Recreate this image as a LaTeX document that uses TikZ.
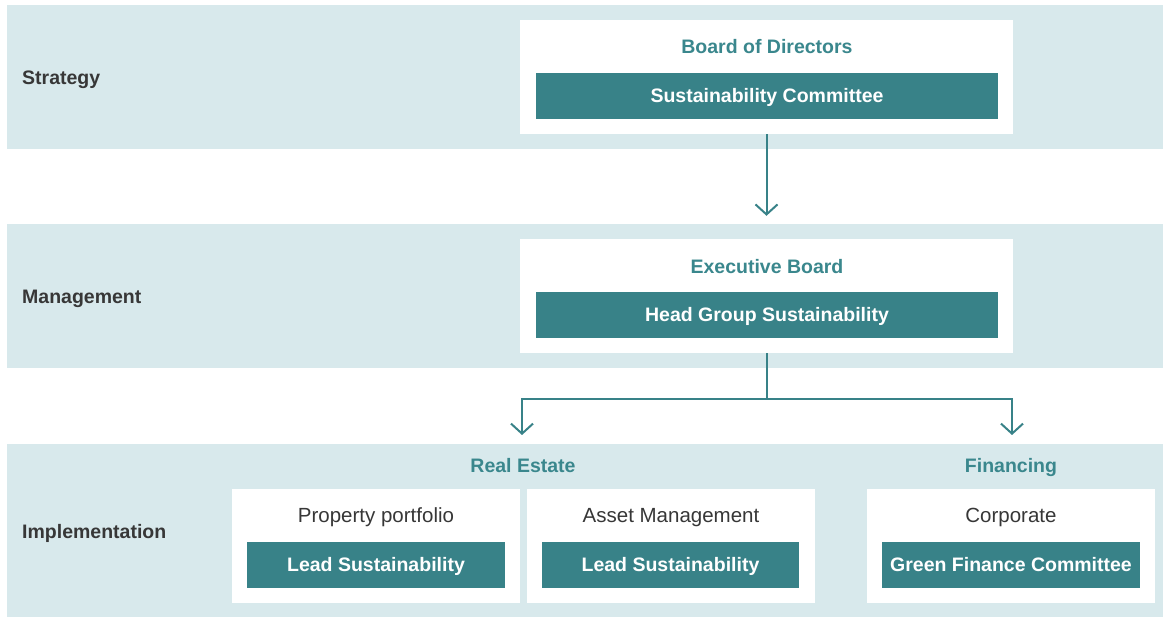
\documentclass[tikz,border=0pt]{standalone}
\usepackage{fontspec}
\setmainfont{Liberation Sans}
\usepackage{xcolor}
\usetikzlibrary{arrows.meta}

\definecolor{bandbg}{RGB}{216,233,236}
\definecolor{tealbar}{RGB}{56,130,136}
\definecolor{tealtext}{RGB}{58,135,141}
\definecolor{darktext}{RGB}{55,55,55}

\tikzset{
  band/.style={fill=bandbg, draw=none},
  panel/.style={rectangle, fill=white, draw=none, minimum height=114pt, inner sep=0pt},
  caps/.style={text height=14pt, text depth=0pt},
  bar/.style={rectangle, fill=tealbar, draw=none, text=white, minimum height=46pt, inner sep=0pt,
    font=\bfseries\fontsize{19.5}{22}\selectfont},
  bartext/.style={caps, text=white, inner sep=0pt, font=\bfseries\fontsize{19.5}{22}\selectfont},
  head/.style={caps, text=tealtext, inner sep=0pt, font=\bfseries\fontsize{19.5}{22}\selectfont},
  unit/.style={caps, text=darktext, inner sep=0pt, font=\fontsize{20.5}{23}\selectfont},
  level/.style={caps, anchor=west, text=darktext, inner sep=0pt, font=\bfseries\fontsize{19.5}{22}\selectfont},
  arr/.style={draw=tealbar, line width=2pt, -{Straight Barb[length=10pt, width=22pt, line width=2pt]}}
}

\begin{document}
\begin{tikzpicture}[x=1pt,y=1pt,yscale=-1,xscale=1]
    \useasboundingbox (0,0) rectangle (1163,617);

    %Bands
    \fill[band] (7,5) rectangle (1163,149);
    \fill[band] (7,224) rectangle (1163,368);
    \fill[band] (7,444) rectangle (1163,617);

    % Level labels
    \node[level] (strategy) at (22,78) {Strategy};
    \node[level] (management) at (22,297) {Management};
    \node[level] (implementation) at (22,532) {Implementation};

    %Strategy
    \node[panel, minimum width=493pt] (board) at (766.5,77) {};
    \node[head] (boardtitle) at (767,47) {Board of Directors};
    \node[bar, minimum width=462pt] (committee) at (767,96) {};
    \node[bartext] (committeetext) at (767,96) {Sustainability Committee};

    %Management
    \node[panel, minimum width=493pt] (exec) at (766.5,296) {};
    \node[head] (exectitle) at (767,267) {Executive Board};
    \node[bar, minimum width=462pt] (headgroup) at (767,315) {};
    \node[bartext] (headgrouptext) at (767,315) {Head Group Sustainability};

    %Implementation
    \node[head] (realestate) at (523,466) {Real Estate};
    \node[head] (financing) at (1011,466) {Financing};

    \node[panel, minimum width=288pt] (portfolio) at (376,546) {};
    \node[unit] (portfoliotitle) at (376,516) {Property portfolio};
    \node[bar, minimum width=258pt] (leadpp) at (376,565) {};
    \node[bartext] (leadpptext) at (376,565) {Lead Sustainability};

    \node[panel, minimum width=288pt] (asset) at (671,546) {};
    \node[unit] (assettitle) at (671,516) {Asset Management};
    \node[bar, minimum width=257pt] (leadam) at (670.5,565) {};
    \node[bartext] (leadamtext) at (670.5,565) {Lead Sustainability};

    \node[panel, minimum width=288pt] (corporate) at (1011,546) {};
    \node[unit] (corporatetitle) at (1011,516) {Corporate};
    \node[bar, minimum width=258pt] (greenfin) at (1011,565) {};
    \node[bartext] (greenfintext) at (1011,565) {Green Finance Committee};

    % Connectors
    \coordinate (reTip) at (522,435);
    \coordinate (finTip) at (1012,435);
    \draw[arr, shorten >=23pt] (board.south) -- (exec.north);
    \draw[arr] (exec.south) -- ++(0,46) -| (reTip);
    \draw[arr] (exec.south) -- ++(0,46) -| (finTip);
\end{tikzpicture}
\end{document}
